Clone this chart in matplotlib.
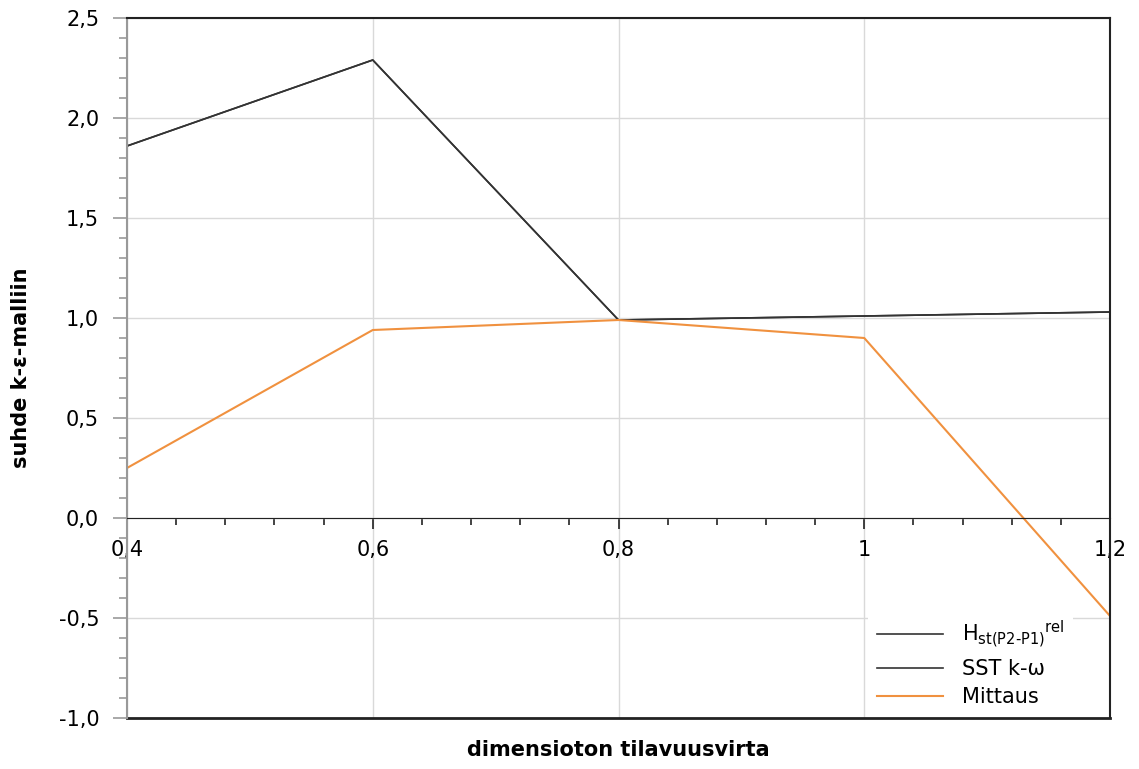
import matplotlib
matplotlib.use("Agg")
import matplotlib.pyplot as plt
from matplotlib.ticker import MultipleLocator, FuncFormatter

x = [0.4, 0.6, 0.8, 1.0, 1.2]
h_st = [1.86, 2.29, 0.99, 1.01, 1.03]
sst = [1.86, 2.29, 0.99, 1.01, 1.03]
mittaus = [0.25, 0.94, 0.99, 0.90, -0.49]
x_ticks = [0.4, 0.6, 0.8, 1.0, 1.2]
x_tick_labels = ["0,4", "0,6", "0,8", "1", "1,2"]
y_ticks = [-1.0, -0.5, 0.0, 0.5, 1.0, 1.5, 2.0, 2.5]
labels = ["H$_{\\mathregular{st(P2\u2010P1)}}$$^{\\mathregular{rel}}$", "SST k-ω", "Mittaus"]

plt.rcParams['font.family'] = ['DejaVu Sans']
fig = plt.figure(figsize=(11.39, 7.69), dpi=100)
ax = fig.add_axes([127/1139, 1-718/769, (1110-127)/1139, (718-18)/769])

ax.plot(x, h_st, color='#333333', lw=1.2, label=labels[0])
ax.plot(x, sst, color='#333333', lw=1.2, label=labels[1])
ax.plot(x, mittaus, color='#f0913f', lw=1.5, label=labels[2])

ax.set_xlim(0.4, 1.2)
ax.set_ylim(-1.0, 2.5)
ax.set_xticks(x_ticks)
ax.set_xticklabels(x_tick_labels)
ax.xaxis.set_minor_locator(MultipleLocator(0.04))
ax.set_yticks(y_ticks)
ax.yaxis.set_major_formatter(FuncFormatter(lambda v, p: f"{v:.1f}".replace('.', ',')))
ax.yaxis.set_minor_locator(MultipleLocator(0.1))

ax.grid(True, which='major', color='#d9d9d9', lw=1)
ax.set_axisbelow(True)

ax.spines['bottom'].set_position(('data', 0))
ax.spines['bottom'].set_color('#222222')
ax.spines['left'].set_color('#999999')
ax.spines['left'].set_linewidth(1.5)
for s in ['top', 'right']:
    ax.spines[s].set_color('#222222')
    ax.spines[s].set_linewidth(1.5)
ax.plot([0, 1], [0, 0], transform=ax.transAxes, color='#222222', lw=2, clip_on=False)

ax.tick_params(axis='x', which='major', direction='out', length=8, width=1.2, color='#222222',
               labelsize=15, pad=8)
ax.tick_params(axis='x', which='minor', direction='out', length=5, width=1.2, color='#222222')
ax.tick_params(axis='y', which='major', direction='out', length=10, width=1.2, color='#999999',
               labelsize=15, pad=10)
ax.tick_params(axis='y', which='minor', direction='out', length=6, width=1.2, color='#999999')

ax.set_ylabel("suhde k-ε-malliin", fontsize=15, fontweight='bold', labelpad=20)
fig.text((127+1110)/2/1139, 1-750/769, "dimensioton tilavuusvirta", fontsize=15,
         fontweight='bold', ha='center', va='center')

leg = ax.legend(loc='lower right', bbox_to_anchor=(0.965, 0.0), fontsize=15, frameon=True,
                facecolor='white', edgecolor='none', framealpha=1, handlelength=3.2,
                handletextpad=0.9, borderaxespad=0.12, labelspacing=0.4)
leg.set_zorder(1)

fig.savefig("out.png", dpi=100)
